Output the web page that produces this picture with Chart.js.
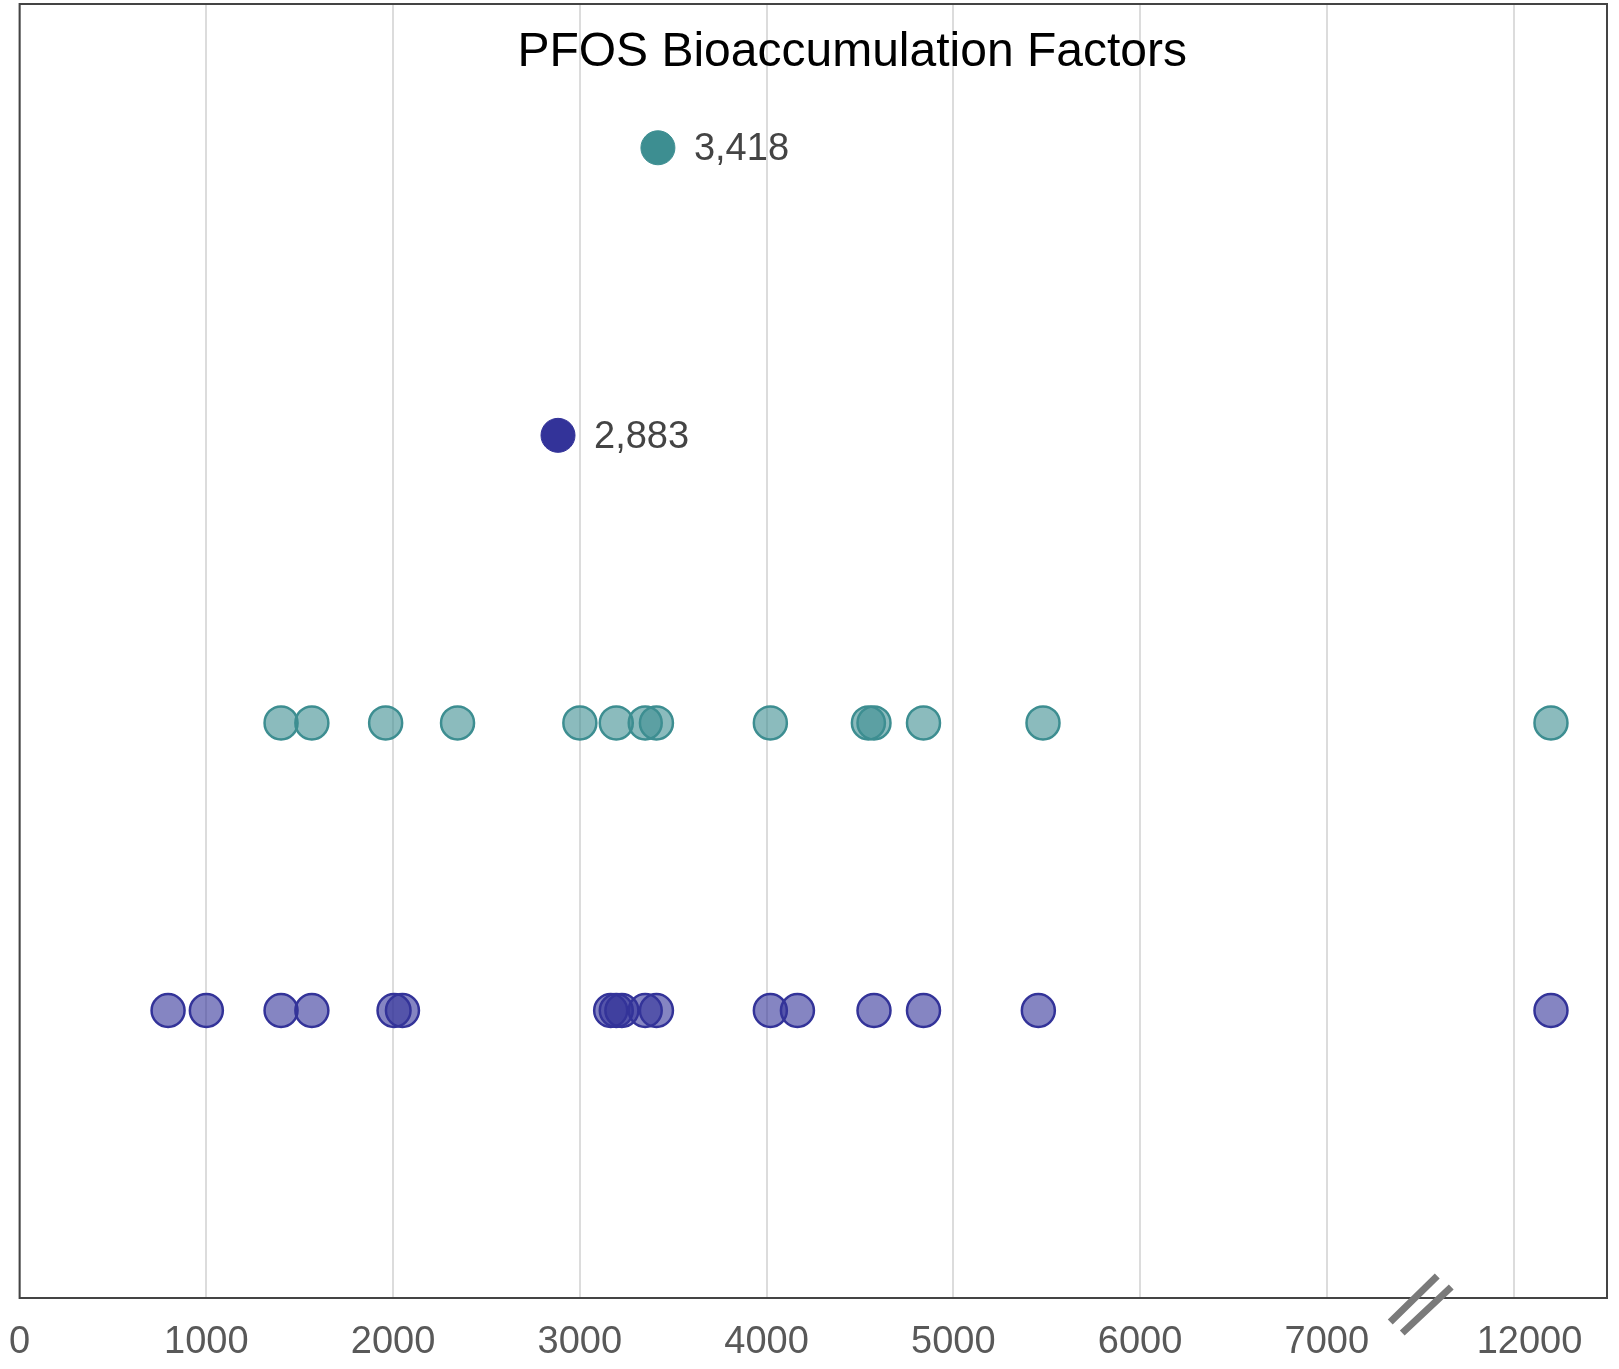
<!DOCTYPE html>
<html>
<head>
<meta charset="utf-8">
<script src="https://cdn.jsdelivr.net/npm/chart.js@4.4.1/dist/chart.umd.min.js"></script>
<style>
  html, body { margin: 0; padding: 0; background: #ffffff; }
  #wrap { width: 1619px; height: 1369px; }
</style>
</head>
<body>
<div id="wrap"><canvas id="c" width="1619" height="1369"></canvas></div>
<script>
// ---- data ----
const chartTitle = "PFOS Bioaccumulation Factors";
const tickValues = [0, 1000, 2000, 3000, 4000, 5000, 6000, 7000, 12000];
const tickLabels = ["0", "1000", "2000", "3000", "4000", "5000", "6000", "7000", "12000"];
const tealValues = [1400, 1565, 1960, 2345, 3000, 3195, 3350, 3410, 4020, 4545, 4575, 4840, 5480, 12200];
const blueValues = [795, 1000, 1400, 1565, 2005, 2050, 3165, 3195, 3225, 3350, 3410, 4020, 4165, 4575, 4840, 5455, 12200];
const tealMedian = 3418;
const blueMedian = 2883;
// row index of each series on the (hidden) vertical axis
const rowBlue = 1, rowTeal = 2, rowBlueMedian = 3, rowTealMedian = 4;

// broken axis: values above the break are shifted down by the gap
const breakAt = 7500;
const breakGap = 4000;
function pos(v) { return v > breakAt ? v - breakGap : v; }

const teal = 'rgb(61,142,145)';
const tealFill = 'rgba(61,142,145,0.6)';
const blue = 'rgb(51,51,153)';
const blueFill = 'rgba(51,51,153,0.6)';
const FONT = '"Liberation Sans", Arial, Helvetica, sans-serif';

function pts(values, row) { return values.map(v => ({ x: pos(v), y: row, raw: v })); }
const fmt = new Intl.NumberFormat('en-US');

const framePlugin = {
  id: 'frame',
  afterDatasetsDraw(chart) {
    const { ctx, chartArea: a, scales } = chart;
    ctx.save();
    // frame
    ctx.strokeStyle = '#444444';
    ctx.lineWidth = 2;
    ctx.strokeRect(a.left, a.top, a.right - a.left, a.bottom - a.top);
    // break marks
    const cx = scales.x.getPixelForValue(breakAt);
    const by = a.bottom;
    ctx.strokeStyle = '#7a7a7a';
    ctx.lineWidth = 7;
    ctx.lineCap = 'butt';
    ctx.beginPath();
    ctx.moveTo(cx - 30, by + 24); ctx.lineTo(cx + 17, by - 22);
    ctx.moveTo(cx - 18, by + 35); ctx.lineTo(cx + 31, by - 11);
    ctx.stroke();
    // title
    ctx.fillStyle = '#000000';
    ctx.font = '48px ' + FONT;
    ctx.textAlign = 'center';
    ctx.textBaseline = 'middle';
    ctx.fillText(chartTitle, a.left + (a.right - a.left) * 0.5245, a.top + 49);
    // median labels
    ctx.fillStyle = '#444444';
    ctx.font = '38px ' + FONT;
    ctx.textAlign = 'left';
    [2, 3].forEach(di => {
      const meta = chart.getDatasetMeta(di);
      meta.data.forEach((el, i) => {
        const raw = chart.data.datasets[di].data[i].raw;
        ctx.fillText(fmt.format(raw), el.x + 36, el.y + 2);
      });
    });
    ctx.restore();
  }
};

new Chart(document.getElementById('c'), {
  type: 'scatter',
  data: {
    datasets: [
      { label: 'blue', data: pts(blueValues, rowBlue), backgroundColor: blueFill, borderColor: blue, borderWidth: 2.5, pointRadius: 16.5 },
      { label: 'teal', data: pts(tealValues, rowTeal), backgroundColor: tealFill, borderColor: teal, borderWidth: 2.5, pointRadius: 16.5 },
      { label: 'blue median', data: pts([blueMedian], rowBlueMedian), backgroundColor: blue, borderColor: blue, borderWidth: 1, pointRadius: 17 },
      { label: 'teal median', data: pts([tealMedian], rowTealMedian), backgroundColor: teal, borderColor: teal, borderWidth: 1, pointRadius: 17 }
    ]
  },
  options: {
    responsive: false,
    animation: false,
    events: [],
    layout: { autoPadding: false, padding: { left: 19.6, right: 12, top: 4, bottom: 3 } },
    plugins: { legend: { display: false }, tooltip: { enabled: false }, title: { display: false } },
    scales: {
      x: {
        type: 'linear',
        min: 0,
        max: 8500,
        afterBuildTicks: (scale) => { scale.ticks = tickValues.map(v => ({ value: pos(v) })); },
        afterFit: (scale) => { scale.height = 68; scale.paddingLeft = 0; scale.paddingRight = 0; },
        ticks: {
          // the label after the break sits slightly right of its grid line in the reference
          callback: (value, index) => (index === tickLabels.length - 1 ? '   ' : '') + tickLabels[index],
          color: '#595959',
          font: { family: FONT, size: 38 },
          padding: 22,
          maxRotation: 0,
          autoSkip: false
        },
        grid: { color: '#dcdcdc', lineWidth: 2, drawTicks: false },
        border: { display: true, color: '#444444', width: 2 }
      },
      y: {
        type: 'linear',
        min: 0,
        max: 4.5,
        display: false
      }
    }
  },
  plugins: [framePlugin]
});
</script>
</body>
</html>
